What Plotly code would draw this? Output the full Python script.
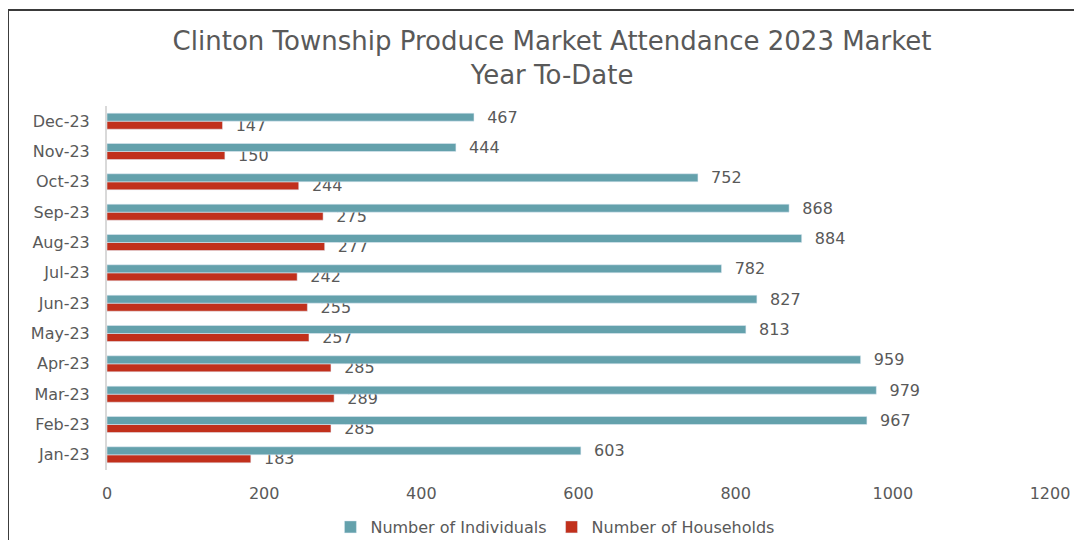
import plotly.graph_objects as go

months = ["Jan-23", "Feb-23", "Mar-23", "Apr-23", "May-23", "Jun-23",
          "Jul-23", "Aug-23", "Sep-23", "Oct-23", "Nov-23", "Dec-23"]
individuals = [603, 967, 979, 959, 813, 827, 782, 884, 868, 752, 444, 467]
households = [183, 285, 289, 285, 257, 255, 242, 277, 275, 244, 150, 147]
x_ticks = [0, 200, 400, 600, 800, 1000, 1200]

FONT = "Century Gothic, DejaVu Sans, sans-serif"
GRAY = "#595959"
TEAL = "#64A1AC"
RED = "#C1301C"

fig = go.Figure()
fig.add_trace(go.Bar(
    y=months, x=households, name="Number of Households", orientation="h",
    marker=dict(color=RED), texttemplate="  %{x}",
    textposition="outside", constraintext="none",
    textfont=dict(family=FONT, size=16, color=GRAY),
    cliponaxis=False,
))
fig.add_trace(go.Bar(
    y=months, x=individuals, name="Number of Individuals", orientation="h",
    marker=dict(color=TEAL), texttemplate="  %{x}",
    textposition="outside", constraintext="none",
    textfont=dict(family=FONT, size=16, color=GRAY),
    cliponaxis=False,
))

fig.update_layout(
    width=1066, height=532,
    margin=dict(l=99, r=24, t=98, b=70),
    paper_bgcolor="white", plot_bgcolor="white",
    barmode="group", bargap=0.47, bargroupgap=0,
    font=dict(family=FONT, color=GRAY, size=16),
    title=dict(
        text="Clinton Township Produce Market Attendance 2023 Market<br>Year To-Date",
        font=dict(family=FONT, size=26, color=GRAY),
        x=0.472, xref="paper", xanchor="center",
        y=1 - 42 / 532, yref="container", yanchor="middle",
    ),
    legend=dict(
        orientation="h", traceorder="reversed", itemwidth=30,
        xref="paper", x=0.475, xanchor="center",
        yref="container", y=13 / 532, yanchor="middle",
        font=dict(family=FONT, size=16, color=GRAY),
    ),
    xaxis=dict(
        range=[0, 1200], tickvals=x_ticks, showgrid=False, zeroline=False,
        showline=False, tickfont=dict(size=16, color=GRAY),
        ticklabelstandoff=12, automargin=False,
    ),
    yaxis=dict(
        categoryorder="array", categoryarray=months,
        showgrid=False, zeroline=False, showline=True,
        linecolor="#D9D9D9", linewidth=2, automargin=False,
        tickfont=dict(size=16, color=GRAY), ticklabelstandoff=12,
    ),
    shapes=[dict(
        type="path", xref="paper", yref="paper",
        path="M -0.105 -0.3 L -0.105 1.264 L 1.2 1.264",
        line=dict(color="#3A3A3A", width=2),
    )],
)

fig.write_html("out.html")
